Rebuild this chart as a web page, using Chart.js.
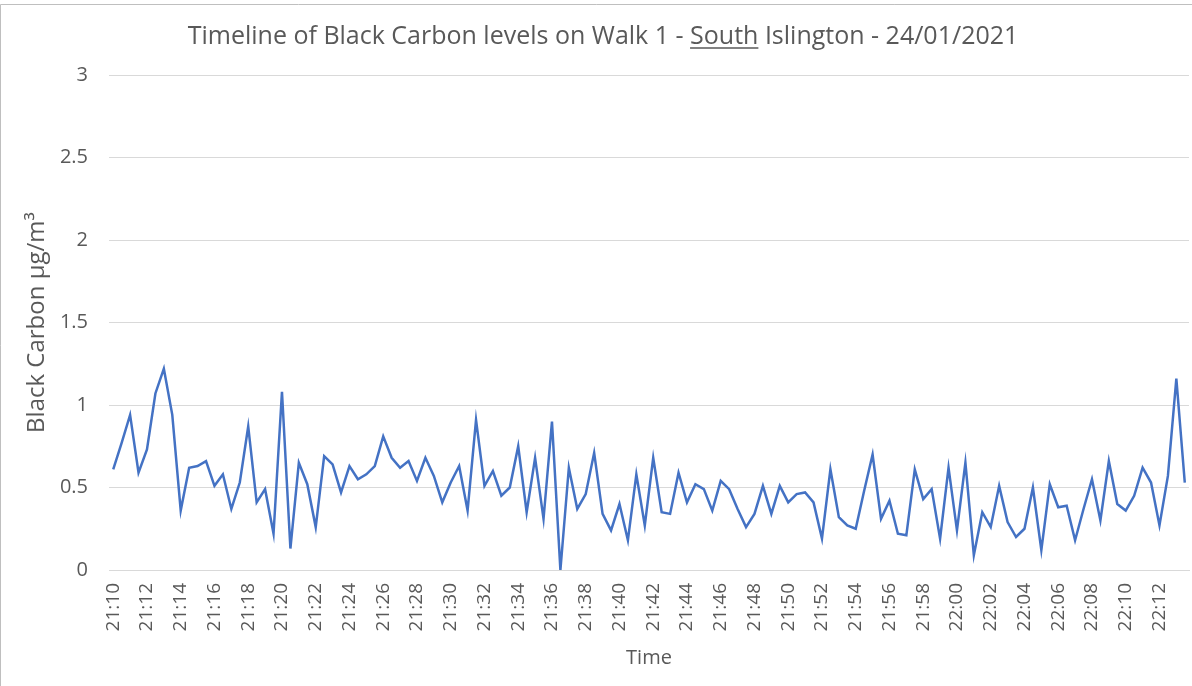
<!DOCTYPE html>
<html>
<head>
<meta charset="utf-8">
<script src="https://cdn.jsdelivr.net/npm/chart.js@4.4.0/dist/chart.umd.min.js"></script>
<style>
  body { margin: 0; background: #fff; }
  #wrap { width: 1192px; height: 686px; position: relative; }
</style>
</head>
<body>
<div id="wrap"><canvas id="bcChart"></canvas></div>
<script>
// readings every 30 seconds from 21:10
const startHour = 21;
const startMinute = 10;
const stepSeconds = 30;

const blackCarbon = [
  0.61, 0.77, 0.94, 0.59, 0.73, 1.07, 1.22, 0.94, 0.36, 0.62,
  0.63, 0.66, 0.51, 0.58, 0.37, 0.53, 0.87, 0.41, 0.49, 0.22,
  1.08, 0.13, 0.65, 0.52, 0.26, 0.69, 0.64, 0.47, 0.63, 0.55,
  0.58, 0.63, 0.81, 0.68, 0.62, 0.66, 0.54, 0.68, 0.57, 0.41,
  0.53, 0.63, 0.36, 0.91, 0.51, 0.60, 0.45, 0.50, 0.75, 0.35,
  0.68, 0.31, 0.90, 0.00, 0.62, 0.37, 0.46, 0.71, 0.34, 0.24,
  0.40, 0.18, 0.58, 0.27, 0.68, 0.35, 0.34, 0.59, 0.41, 0.52,
  0.49, 0.36, 0.54, 0.49, 0.37, 0.26, 0.34, 0.51, 0.34, 0.51,
  0.41, 0.46, 0.47, 0.41, 0.19, 0.61, 0.32, 0.27, 0.25, 0.48,
  0.70, 0.31, 0.42, 0.22, 0.21, 0.61, 0.43, 0.49, 0.19, 0.62,
  0.24, 0.65, 0.09, 0.35, 0.26, 0.51, 0.29, 0.20, 0.25, 0.50,
  0.12, 0.52, 0.38, 0.39, 0.18, 0.37, 0.55, 0.30, 0.66, 0.40,
  0.36, 0.45, 0.62, 0.53, 0.27, 0.57, 1.16, 0.53
];

const yTicks = [0, 0.5, 1, 1.5, 2, 2.5, 3];
const titleParts = ['Timeline of Black Carbon levels on Walk 1 - ', 'South', ' Islington - 24/01/2021'];

const timeLabels = [];
for (let i = 0; i < blackCarbon.length; i++) {
  const total = startHour * 3600 + startMinute * 60 + i * stepSeconds;
  const h = Math.floor(total / 3600);
  const m = Math.floor((total % 3600) / 60);
  timeLabels.push(h + ':' + String(m).padStart(2, '0'));
}

const textColor = '#595959';
const fontFamily = '"Open Sans", "Liberation Sans", sans-serif';

// title with the underlined word, plus the outer frame
const titlePlugin = {
  id: 'underlinedTitle',
  afterDraw(chart) {
    const ctx = chart.ctx;
    ctx.save();
    ctx.strokeStyle = '#bfbfbf';
    ctx.lineWidth = 1;
    ctx.beginPath();
    ctx.moveTo(0.5, chart.height);
    ctx.lineTo(0.5, 4.5);
    ctx.lineTo(chart.width, 4.5);
    ctx.stroke();

    ctx.font = '25px ' + fontFamily;
    ctx.fillStyle = textColor;
    ctx.textBaseline = 'alphabetic';
    const widths = titleParts.map(t => ctx.measureText(t).width);
    const total = widths.reduce((a, b) => a + b, 0);
    let x = 603 - total / 2;
    const baseY = 44;
    titleParts.forEach((t, k) => {
      ctx.fillText(t, x, baseY);
      if (k === 1) {
        ctx.strokeStyle = textColor;
        ctx.lineWidth = 1.5;
        ctx.beginPath();
        ctx.moveTo(x, baseY + 4);
        ctx.lineTo(x + widths[k], baseY + 4);
        ctx.stroke();
      }
      x += widths[k];
    });
    ctx.restore();
  }
};

new Chart(document.getElementById('bcChart'), {
  type: 'line',
  data: {
    labels: timeLabels,
    datasets: [{
      data: blackCarbon,
      borderColor: '#4472C4',
      borderWidth: 2.5,
      pointRadius: 0,
      tension: 0,
      fill: false
    }]
  },
  options: {
    responsive: true,
    maintainAspectRatio: false,
    animation: false,
    layout: { padding: { top: 75, right: 3, left: 0, bottom: 0 } },
    plugins: {
      legend: { display: false },
      tooltip: { enabled: false }
    },
    scales: {
      x: {
        offset: true,
        grid: { display: false, drawTicks: false },
        border: { display: true, color: '#d9d9d9', width: 1 },
        ticks: {
          autoSkip: false,
          minRotation: 90,
          maxRotation: 90,
          padding: 13,
          color: textColor,
          font: { family: fontFamily, size: 19 },
          callback: (v, i) => i % 4 === 0 ? timeLabels[i] : ''
        },
        title: {
          display: true,
          text: 'Time',
          color: textColor,
          font: { family: fontFamily, size: 20 },
          padding: { top: 0, bottom: 16 }
        },
        afterFit: scale => {
          scale.height = 116;
          scale.paddingLeft = 0;
          scale.paddingRight = 0;
        }
      },
      y: {
        min: 0,
        max: 3,
        afterBuildTicks: scale => { scale.ticks = yTicks.map(v => ({ value: v })); },
        grid: { color: '#d9d9d9', lineWidth: 1, drawTicks: false },
        border: { display: false },
        ticks: {
          padding: 21,
          color: textColor,
          font: { family: fontFamily, size: 20 },
          callback: v => String(v)
        },
        title: {
          display: true,
          text: 'Black Carbon µg/m³',
          color: textColor,
          font: { family: fontFamily, size: 24 },
          padding: { top: 23, bottom: 0 }
        },
        afterFit: scale => { scale.width = 109; }
      }
    }
  },
  plugins: [titlePlugin]
});
</script>
</body>
</html>
